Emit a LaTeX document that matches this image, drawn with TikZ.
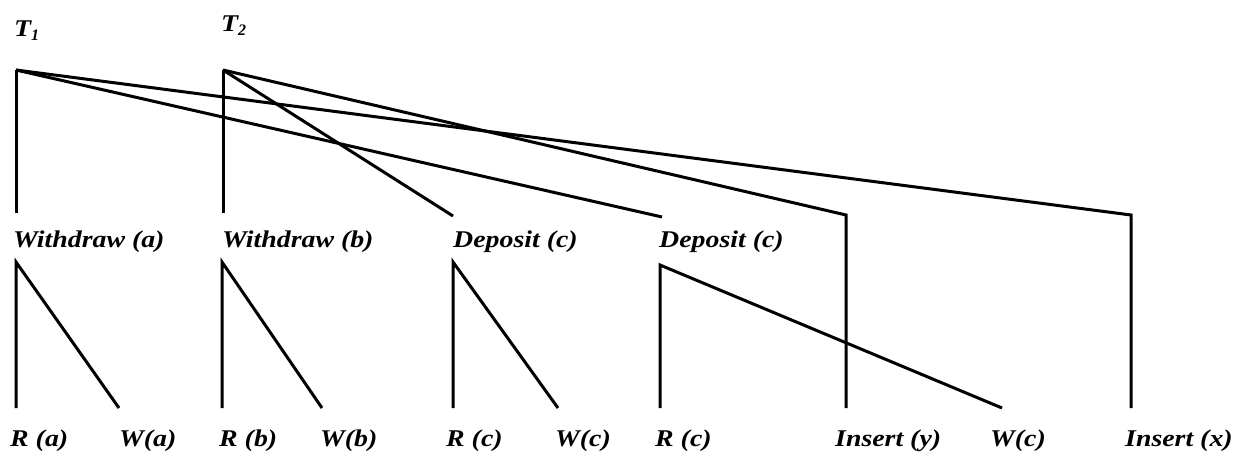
\documentclass[tikz,border=0pt]{standalone}
\usepackage{fontspec}
\usepackage{graphicx}
\setmainfont{Liberation Serif}
\newcommand\opname[1]{\scalebox{1.16}[1]{#1}}
\newcommand\subone[1]{{\fontsize{16}{16}\selectfont\raisebox{-4pt}{#1}}}
\begin{document}
\begin{tikzpicture}[x=1pt,y=-1pt,
  edge/.style={line width=3pt,line join=miter,line cap=butt},
  lbl/.style={anchor=base west,inner sep=0pt,font=\fontsize{24}{24}\selectfont\bfseries\itshape}]
\useasboundingbox (0,0) rectangle (1239,473);

% transaction roots
\coordinate (t1) at (16,70);
\coordinate (t2) at (223,70);
\node[lbl] (t1lbl) at (14,37) {\opname{T}\subone{1}};
\node[lbl] (t2lbl) at (221,32) {\opname{T}\subone{2}};

% operation level
\coordinate (wa) at (16,213);
\coordinate (wb) at (223,213);
\coordinate (dc1) at (453,216);
\coordinate (dc2) at (662,217);
\coordinate (iyk) at (846,215);
\coordinate (ixk) at (1131,215);
\node[lbl] (wal) at (13,247) {\opname{Withdraw (a)}};
\node[lbl] (wbl) at (222,247) {\opname{Withdraw (b)}};
\node[lbl] (dc1l) at (453,247) {\opname{Deposit (c)}};
\node[lbl] (dc2l) at (659,247) {\opname{Deposit (c)}};

% step apexes
\coordinate (wat) at (16,262);
\coordinate (wbt) at (222,262);
\coordinate (dc1t) at (453,262);
\coordinate (dc2t) at (660,265);

% leaf ends
\coordinate (ra) at (16,408);
\coordinate (wwa) at (119,408);
\coordinate (rb) at (222,408);
\coordinate (wwb) at (322,408);
\coordinate (rc1) at (453,408);
\coordinate (wc1) at (558,408);
\coordinate (rc2) at (660,408);
\coordinate (iy) at (846,408);
\coordinate (wc2) at (1002,408);
\coordinate (ix) at (1131,408);

% leaf labels
\node[lbl] (ral) at (10,446) {\opname{R (a)}};
\node[lbl] (wal2) at (119,446) {\opname{W(a)}};
\node[lbl] (rbl) at (219,446) {\opname{R (b)}};
\node[lbl] (wbl2) at (320,446) {\opname{W(b)}};
\node[lbl] (rc1l) at (446,446) {\opname{R (c)}};
\node[lbl] (wc1l) at (555,446) {\opname{W(c)}};
\node[lbl] (rc2l) at (655,446) {\opname{R (c)}};
\node[lbl] (iyl) at (835,446) {\opname{Insert (y)}};
\node[lbl] (wc2l) at (990,446) {\opname{W(c)}};
\node[lbl] (ixl) at (1125,446) {\opname{Insert (x)}};

% T1 edges
\draw[edge] (t1) -- (wa);
\draw[edge] (t1) -- (dc2);
\draw[edge] (t1) -- (ixk) -- (ix);
% T2 edges
\draw[edge] (t2) -- (wb);
\draw[edge] (t2) -- (dc1);
\draw[edge] (t2) -- (iyk) -- (iy);

% step edges
\draw[edge] (ra) -- (wat) -- (wwa);
\draw[edge] (rb) -- (wbt) -- (wwb);
\draw[edge] (rc1) -- (dc1t) -- (wc1);
\draw[edge] (rc2) -- (dc2t) -- (wc2);
\end{tikzpicture}
\end{document}
